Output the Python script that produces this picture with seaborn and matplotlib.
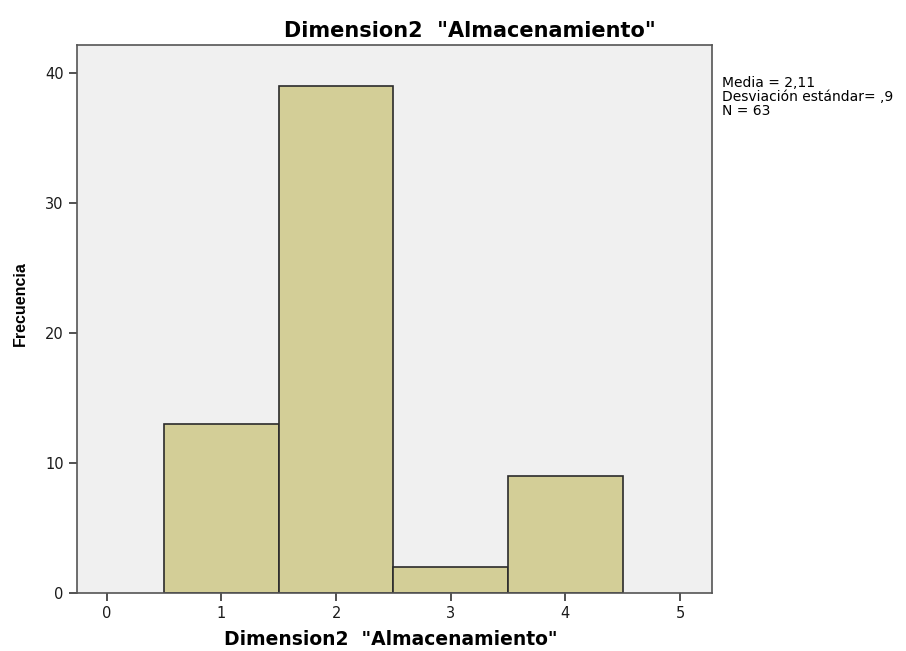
import matplotlib
matplotlib.use('Agg')
import matplotlib.pyplot as plt
import seaborn as sns

# data
valores = [1, 2, 3, 4]
frecuencias = [13, 39, 2, 9]
x_ticks = [0, 1, 2, 3, 4, 5]
y_ticks = [0, 10, 20, 30, 40]
titulo = 'Dimension2  "Almacenamiento"'
stats_text = 'Media = 2,11\nDesviación estándar= ,9\nN = 63'

sns.set_style('ticks')
plt.rcParams['font.family'] = ['DejaVu Sans']
plt.rcParams['text.color'] = 'black'

fig = plt.figure(figsize=(9.06, 6.51), dpi=100)
ax = fig.add_axes([0.085, 0.089, 0.701, 0.842])
ax.set_facecolor('#F0F0F0')

sns.histplot(x=valores, weights=frecuencias, discrete=True, ax=ax,
             color='#D3CE97', alpha=1, edgecolor='#2b2b2b', linewidth=1.2)

ax.set_xlim(-0.26, 5.28)
ax.set_ylim(0, 42.2)
ax.set_xticks(x_ticks)
ax.set_yticks(y_ticks)
ax.tick_params(labelsize=10.5, length=6, width=1.2, color='#333333', labelcolor='#1a1a1a')
for s in ax.spines.values():
    s.set_color('#555555')
    s.set_linewidth(1.2)

ax.set_xlabel('')
ax.set_ylabel('')
fig.text(0.519, 0.952, titulo, fontsize=15, fontweight='bold', ha='center', va='center')
fig.text(0.431, 0.018, titulo, fontsize=13.5, fontweight='bold', ha='center', va='center')
fig.text(0.022, 0.533, 'Frecuencia', fontsize=11.5, fontweight='bold', family='Liberation Sans',
         rotation=90, ha='center', va='center')

fig.text(0.797, 0.884, stats_text, fontsize=10, va='top', ha='left', linespacing=1.0)

fig.savefig('out.png', dpi=100)
